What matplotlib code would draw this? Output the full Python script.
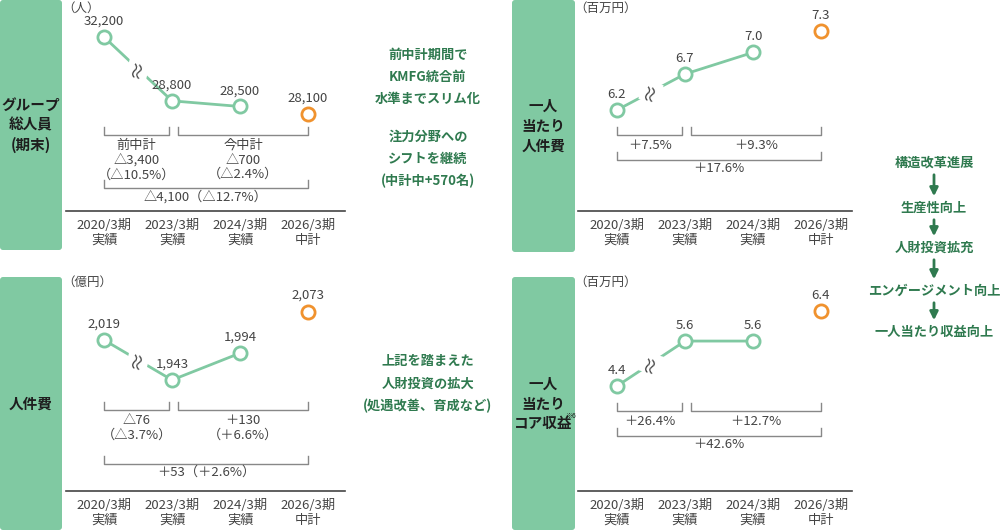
import matplotlib.pyplot as plt
from matplotlib.patches import FancyBboxPatch

plt.rcParams['font.family'] = ['Noto Sans CJK JP']

W, H = 1000, 532
GREEN = '#80c9a2'
DARK = '#2f7a4f'
ORANGE = '#f0922e'
GRAY = '#444444'

periods = ['2020/3期\n実績', '2023/3期\n実績', '2024/3期\n実績', '2026/3期\n中計']
staff = [32200, 28800, 28500, 28100]
staff_lbl = ['32,200', '28,800', '28,500', '28,100']
cost = [2019, 1943, 1994, 2073]
cost_lbl = ['2,019', '1,943', '1,994', '2,073']
cost_pp = [6.2, 6.7, 7.0, 7.3]
rev_pp = [4.4, 5.6, 5.6, 6.4]

fig = plt.figure(figsize=(W / 100, H / 100), dpi=100)
bg = fig.add_axes([0, 0, 1, 1])
bg.set_xlim(0, W)
bg.set_ylim(H, 0)
bg.axis('off')


def box(x0, y0, x1, y1, text, size=10.5):
    bg.add_patch(FancyBboxPatch((x0 + 3, y0 + 3), x1 - x0 - 6, y1 - y0 - 6,
                                boxstyle='round,pad=3', fc=GREEN, ec='none'))
    bg.text((x0 + x1) / 2, (y0 + y1) / 2, text, ha='center', va='center',
            fontsize=size, fontweight='bold', color='#1e1e1e', linespacing=1.3)


box(0, 0, 62, 250, 'グループ\n総人員\n(期末)')
box(0, 277, 62, 530, '人件費')
box(512, 0, 575, 252, '一人\n当たり\n人件費')
box(512, 277, 575, 530, '一人\n当たり\nコア収益')
bg.text(565, 418, '※6', fontsize=5, color='#1e1e1e')


def panel(x0, x1, y0, y1, vals, labels, top_v, bot_v, unit, brackets, big, orig):
    # panel axes in pixel box; x in category index, y in value
    ax = fig.add_axes([x0 / W, 1 - y1 / H, (x1 - x0) / W, (y1 - y0) / H])
    ax.set_xlim((x0 - orig) / 68, (x1 - orig) / 68)
    ax.set_ylim(bot_v, top_v)
    ax.axis('off')

    def py(p):
        return top_v - (p - y0) / (y1 - y0) * (top_v - bot_v)

    xs = list(range(len(vals)))
    ax.plot(xs[:3], vals[:3], color=GREEN, lw=2, zorder=2)
    ax.scatter(xs[:3], vals[:3], s=90, fc='white', ec=GREEN, lw=2, zorder=3)
    ax.scatter(xs[3:], vals[3:], s=90, fc='white', ec=ORANGE, lw=2, zorder=3)
    for x, v, l in zip(xs, vals, labels):
        ax.text(x, v + (top_v - bot_v) * 0.045, l, ha='center', va='bottom',
                fontsize=9.5, color=GRAY)
    # break mark
    mx, my = 0.5, (vals[0] + vals[1]) / 2
    ax.text(mx, my, '≈', rotation=75, ha='center', va='center', fontsize=14,
            color=GRAY, bbox=dict(fc='white', ec='none', pad=0), zorder=4)
    ax.text((x0 - 6 - orig) / 68, py(y0 - 6), unit, ha='left', va='top',
            fontsize=9, color=GRAY, clip_on=False)
    for a, b, pt, texts in brackets:
        ax.plot([a, a, b, b], [py(pt), py(pt + 8), py(pt + 8), py(pt)],
                color='#888888', lw=1)
        ax.text((a + b) / 2, py(pt + 12), texts, ha='center', va='top',
                fontsize=9.5, color=GRAY, linespacing=1.15)
    a, b, pt, t = big
    ax.plot([a, a, b, b], [py(pt), py(pt + 8), py(pt + 8), py(pt)],
            color='#888888', lw=1)
    ax.text((a + b) / 2, py(pt + 10), t, ha='center', va='top',
            fontsize=9.5, color=GRAY)
    ax.plot([(x0 - 2 - orig) / 68, (x1 - orig) / 68], [py(y1 - 2)] * 2,
            color='#444444', lw=1.2, clip_on=False)
    for x, p in enumerate(periods):
        ax.text(x, py(y1 + 6), p, ha='center', va='top', fontsize=9.5,
                color=GRAY, linespacing=1.2, clip_on=False)


panel(68, 345, 8, 213, staff, staff_lbl,
      32200 + 29 * 53.25, 32200 - 176 * 53.25, '（人）',
      [(0, 0.96, 127, '前中計\n△3,400\n（△10.5%）'),
       (1.09, 3, 127, '今中計\n△700\n（△2.4%）')],
      (0, 3, 180, '△4,100（△12.7%）'), 104)
panel(68, 345, 282, 493, cost, cost_lbl,
      2019 + 58 * 1.9, 2019 - 153 * 1.9, '（億円）',
      [(0, 0.96, 402, '△76\n（△3.7%）'),
       (1.09, 3, 402, '＋130\n（＋6.6%）')],
      (0, 3, 456, '＋53（＋2.6%）'), 104)
panel(580, 852, 8, 213, cost_pp, ['6.2', '6.7', '7.0', '7.3'],
      6.2 + 102 * 0.0139, 6.2 - 103 * 0.0139, '（百万円）',
      [(0, 0.96, 127, '＋7.5%'), (1.09, 3, 127, '＋9.3%')],
      (0, 3, 152, '＋17.6%'), 617)
panel(580, 852, 282, 493, rev_pp, ['4.4', '5.6', '5.6', '6.4'],
      4.4 + 104 * 0.0267, 4.4 - 107 * 0.0267, '（百万円）',
      [(0, 0.96, 403, '＋26.4%'), (1.09, 3, 403, '＋12.7%')],
      (0, 3, 428, '＋42.6%'), 617)

mid = dict(ha='center', va='center', fontsize=9.5, color=DARK,
           fontweight='bold', linespacing=1.75)
bg.text(428, 77, '前中計期間で\nKMFG統合前\n水準までスリム化', **mid)
bg.text(428, 159, '注力分野への\nシフトを継続\n(中計中+570名)', **mid)
bg.text(428, 384, '上記を踏まえた\n人財投資の拡大\n(処遇改善、育成など)', **mid)

steps = ['構造改革進展', '生産性向上', '人財投資拡充', 'エンゲージメント向上', '一人当たり収益向上']
ys = [163, 208, 248, 291, 332]
for i, (s, y) in enumerate(zip(steps, ys)):
    bg.text(934, y, s, ha='center', va='center', fontsize=9.5, color=DARK,
            fontweight='bold')
    if i < len(steps) - 1:
        bg.annotate('', xy=(934, ys[i + 1] - 9), xytext=(934, y + 9),
                    arrowprops=dict(arrowstyle='-|>', color=DARK, lw=2,
                                    mutation_scale=12))

fig.savefig('out.png', dpi=100)
